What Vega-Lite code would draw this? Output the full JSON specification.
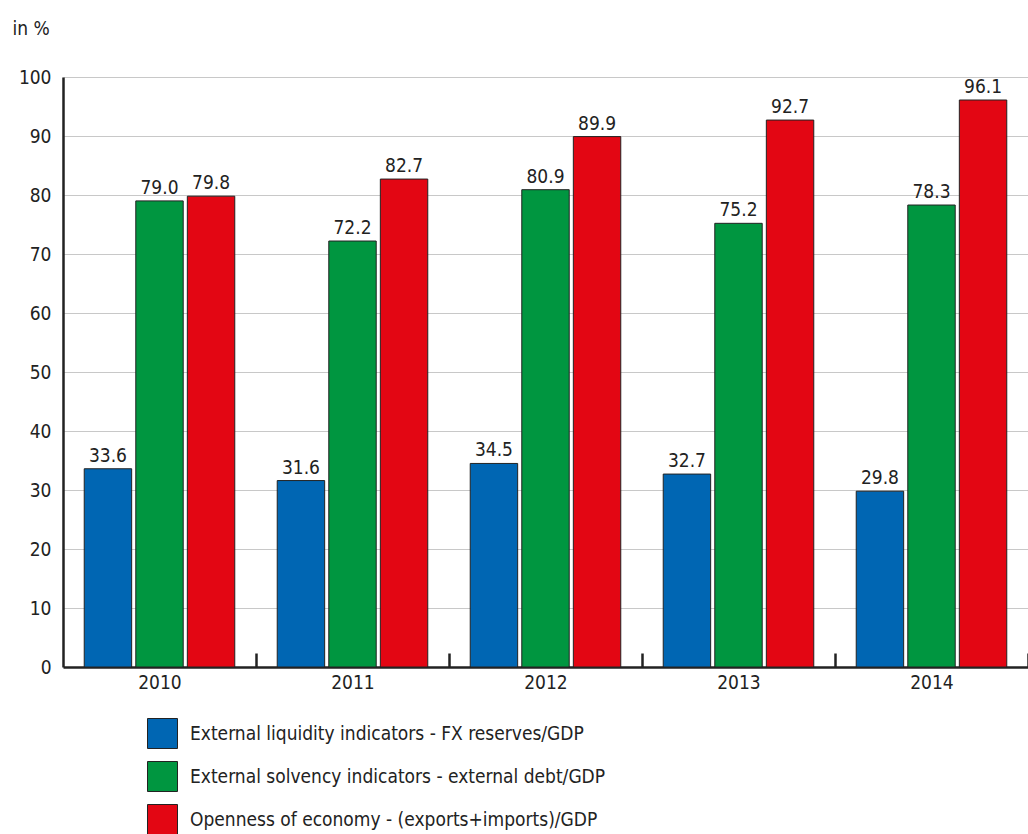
{
  "$schema": "https://vega.github.io/schema/vega-lite/v6.json",
  "width": 965,
  "height": 590,
  "autosize": {"type": "none"},
  "padding": {"left": 63, "top": 77, "right": 0, "bottom": 167},
  "background": "white",
  "config": {
    "view": {"stroke": null},
    "font": "DejaVu Sans Condensed, Roboto Condensed, Liberation Sans Narrow, sans-serif",
    "axis": {"labelFont": "DejaVu Sans Condensed, Roboto Condensed, Liberation Sans Narrow, sans-serif", "titleFont": "DejaVu Sans Condensed, Roboto Condensed, Liberation Sans Narrow, sans-serif"},
    "legend": {"labelFont": "DejaVu Sans Condensed, Roboto Condensed, Liberation Sans Narrow, sans-serif"},
    "text": {"font": "DejaVu Sans Condensed, Roboto Condensed, Liberation Sans Narrow, sans-serif"}
  },
  "data": {
    "values": [
      {"year": "2010", "series": "External liquidity indicators - FX reserves/GDP", "value": 33.6},
      {"year": "2010", "series": "External solvency indicators - external debt/GDP", "value": 79.0},
      {"year": "2010", "series": "Openness of economy - (exports+imports)/GDP", "value": 79.8},
      {"year": "2011", "series": "External liquidity indicators - FX reserves/GDP", "value": 31.6},
      {"year": "2011", "series": "External solvency indicators - external debt/GDP", "value": 72.2},
      {"year": "2011", "series": "Openness of economy - (exports+imports)/GDP", "value": 82.7},
      {"year": "2012", "series": "External liquidity indicators - FX reserves/GDP", "value": 34.5},
      {"year": "2012", "series": "External solvency indicators - external debt/GDP", "value": 80.9},
      {"year": "2012", "series": "Openness of economy - (exports+imports)/GDP", "value": 89.9},
      {"year": "2013", "series": "External liquidity indicators - FX reserves/GDP", "value": 32.7},
      {"year": "2013", "series": "External solvency indicators - external debt/GDP", "value": 75.2},
      {"year": "2013", "series": "Openness of economy - (exports+imports)/GDP", "value": 92.7},
      {"year": "2014", "series": "External liquidity indicators - FX reserves/GDP", "value": 29.8},
      {"year": "2014", "series": "External solvency indicators - external debt/GDP", "value": 78.3},
      {"year": "2014", "series": "Openness of economy - (exports+imports)/GDP", "value": 96.1}
    ]
  },
  "encoding": {
    "x": {
      "field": "year", "type": "nominal",
      "scale": {"paddingInner": 0.22, "paddingOuter": 0.11},
      "axis": {
        "title": null, "labelAngle": 0, "labelFontSize": 19, "labelColor": "#222",
        "labelPadding": 20, "domainColor": "#222", "domainWidth": 2.5,
        "tickSize": -14, "tickColor": "#222", "tickWidth": 2.5,
        "tickOffset": 96.5, "labelOffset": -96.5,
        "ticks": true
      }
    },
    "xOffset": {"field": "series", "type": "nominal", "scale": {"paddingInner": 0.08, "paddingOuter": 0}},
    "y": {
      "field": "value", "type": "quantitative",
      "scale": {"domain": [0, 100], "nice": false},
      "axis": {
        "values": [0, 10, 20, 30, 40, 50, 60, 70, 80, 90, 100],
        "title": "in %", "titleAngle": 0, "titleAlign": "left", "titleBaseline": "middle",
        "titleX": -51, "titleY": -49, "titleFontSize": 19, "titleFontWeight": "normal", "titleColor": "#222",
        "labelFontSize": 19, "labelColor": "#222", "labelPadding": 12,
        "ticks": false, "domainColor": "#222", "domainWidth": 2.5,
        "grid": true, "gridColor": "#c8c8c8", "gridWidth": 1.2
      }
    }
  },
  "layer": [
    {
      "mark": {"type": "bar", "stroke": "#222", "strokeWidth": 1},
      "encoding": {
        "color": {
          "field": "series", "type": "nominal",
          "scale": {"range": ["#0066b3", "#009640", "#e30613"]},
          "legend": {
            "title": null, "orient": "none", "legendX": 84, "legendY": 641,
            "direction": "vertical", "symbolType": "square", "symbolSize": 900,
            "symbolStrokeColor": "#222", "symbolStrokeWidth": 1, "symbolOpacity": 1,
            "labelFontSize": 19, "labelColor": "#222", "rowPadding": 8, "labelOffset": 12,
            "labelLimit": 600
          }
        }
      }
    },
    {
      "mark": {"type": "text", "baseline": "bottom", "dy": -3, "fontSize": 19, "color": "#222"},
      "encoding": {"text": {"field": "value", "type": "quantitative", "format": ".1f"}}
    }
  ]
}
